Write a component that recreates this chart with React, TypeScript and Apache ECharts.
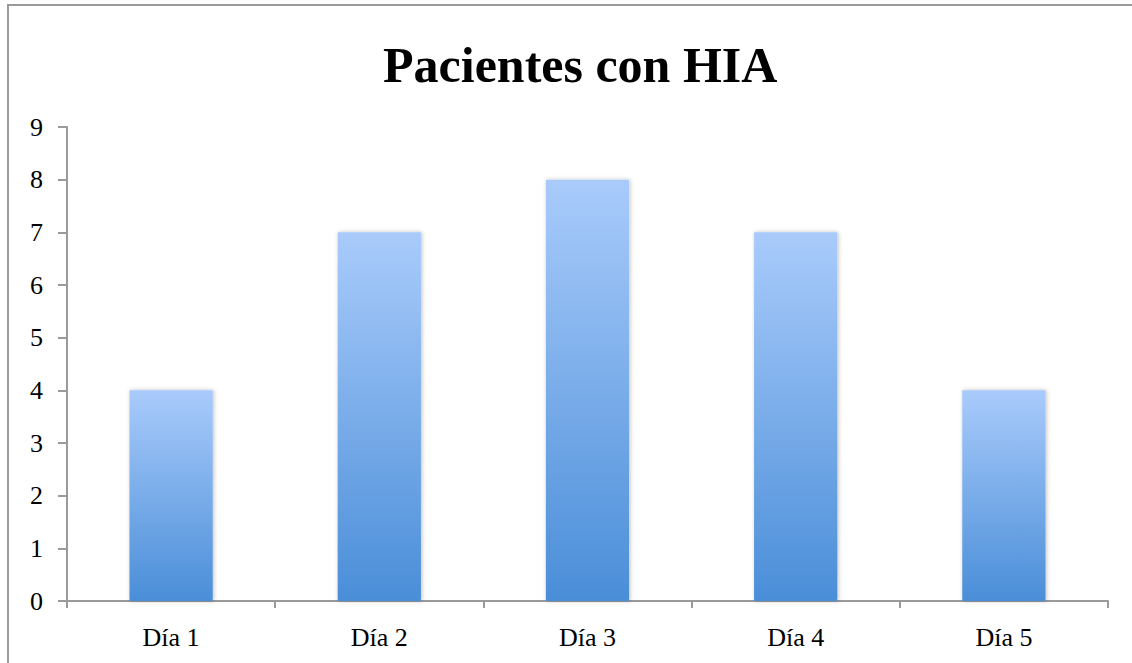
import React, { useEffect, useRef } from "react";
import * as echarts from "echarts";

const categories = ["Día 1", "Día 2", "Día 3", "Día 4", "Día 5"];
const values = [4, 7, 8, 7, 4];
const titleText = "Pacientes con HIA";

export default function App() {
  const ref = useRef<HTMLDivElement>(null);
  useEffect(() => {
    if (!ref.current) return;
    const chart = echarts.init(ref.current, null, { renderer: "svg" });
    const serif = "'Liberation Serif', 'DejaVu Serif', serif";
    chart.setOption({
      animation: false,
      backgroundColor: "#ffffff",
      title: {
        text: titleText,
        left: 378,
        top: 35,
        textStyle: { fontFamily: serif, fontWeight: "bold", fontSize: 50, color: "#000" },
      },
      graphic: [
        {
          type: "line",
          shape: { x1: 8, y1: 5, x2: 1132, y2: 5 },
          style: { stroke: "#9a9a9a", lineWidth: 2 },
          silent: true,
        },
        {
          type: "line",
          shape: { x1: 8, y1: 4, x2: 8, y2: 663 },
          style: { stroke: "#9a9a9a", lineWidth: 2 },
          silent: true,
        },
      ],
      grid: { left: 67, right: 24, top: 127, bottom: 62, containLabel: false },
      xAxis: {
        type: "category",
        data: categories,
        boundaryGap: true,
        axisLine: { show: true, lineStyle: { color: "#9a9a9a", width: 2 } },
        axisTick: { show: true, length: 7, lineStyle: { color: "#9a9a9a", width: 2 } },
        axisLabel: { fontFamily: serif, fontSize: 26, color: "#000", margin: 23 },
      },
      yAxis: {
        type: "value",
        min: 0,
        max: 9,
        interval: 1,
        axisLine: { show: true, lineStyle: { color: "#9a9a9a", width: 2 } },
        axisTick: { show: true, length: 9, lineStyle: { color: "#9a9a9a", width: 2 } },
        splitLine: { show: false },
        axisLabel: { fontFamily: serif, fontSize: 26, color: "#000", margin: 24 },
      },
      series: [
        {
          type: "bar",
          data: values,
          barWidth: "40%",
          itemStyle: {
            color: new echarts.graphic.LinearGradient(0, 0, 0, 1, [
              { offset: 0, color: "#a9cbfb" },
              { offset: 1, color: "#4a8ed8" },
            ]),
            shadowColor: "rgba(0,0,0,0.25)",
            shadowBlur: 4,
            shadowOffsetX: 1,
            shadowOffsetY: 0,
          },
        },
      ],
    });
    return () => chart.dispose();
  }, []);
  return (
    <div
      ref={ref}
      style={{ position: "fixed", left: 0, top: 0, width: 1132, height: 663 }}
    />
  );
}
